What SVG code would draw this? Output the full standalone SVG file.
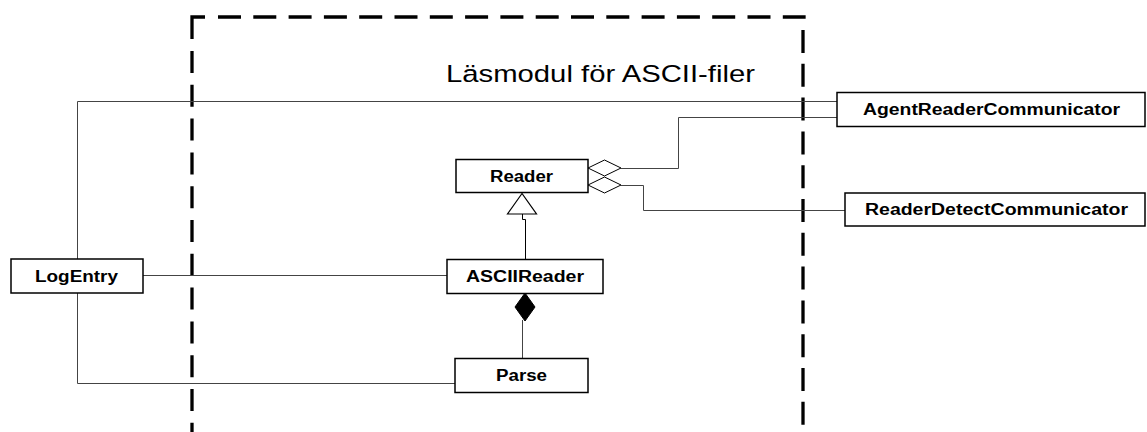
<svg xmlns="http://www.w3.org/2000/svg" width="1147" height="432" viewBox="0 0 1147 432">
<style>
.box{fill:#fff;stroke:#000;stroke-width:1.5}
.lbl{font-family:"Liberation Sans",Arial,sans-serif;font-weight:bold;font-size:16px;fill:#000}
.con{fill:none;stroke:#444;stroke-width:1}
.dash{fill:none;stroke:#000;stroke-width:3.3}
</style>
<rect width="1147" height="432" fill="#fff"/>
<g id="module">
<path class="dash" d="M192,39 V17 H205"/>
<path class="dash" d="M192,51 V432" stroke-dasharray="22 11.8"/>
<path class="dash" d="M218,17 H804 V19" stroke-dasharray="23 12.3"/>
<path class="dash" d="M803,30 V432" stroke-dasharray="23 10.8"/>
<text x="446" y="82" font-family="Liberation Sans,Arial,sans-serif" font-size="24.5" textLength="309" lengthAdjust="spacingAndGlyphs">Läsmodul för ASCII-filer</text>
</g>
<g id="connectors">
<path class="con" d="M77.5,259 V101.5 H837"/>
<path class="con" d="M143,275.5 H447"/>
<path class="con" d="M77.5,293 V383.5 H455"/>
<path class="con" d="M621,168.5 H678.5 V117.5 H837"/>
<path class="con" d="M621,185.5 H643.5 V210.5 H845"/>
<polygon points="588,168 604.5,160 621,168 604.5,176" fill="none" stroke="#000" stroke-width="1"/>
<polygon points="588,185 604.5,177 621,185 604.5,193" fill="none" stroke="#000" stroke-width="1"/>
<path d="M522.5,214 V219.5 H525.5 V259" fill="none" stroke="#000" stroke-width="1"/>
<polygon points="522,193.5 507.5,214 536.5,214" fill="#fff" stroke="#000" stroke-width="1.2"/>
<path class="con" d="M522.5,320 V358"/>
<polygon points="525,293 535,307 525,321 515,307" fill="#000" stroke="#000" stroke-width="1"/>
</g>
<g id="Reader">
<rect class="box" x="456" y="159.5" width="132" height="33"/>
<text class="lbl" x="490" y="182" textLength="63" lengthAdjust="spacingAndGlyphs">Reader</text>
</g>
<g id="ASCIIReader">
<rect class="box" x="447" y="259.5" width="156" height="34"/>
<text class="lbl" x="466" y="282" textLength="118" lengthAdjust="spacingAndGlyphs">ASCIIReader</text>
</g>
<g id="Parse">
<rect class="box" x="455" y="358.5" width="133" height="34"/>
<text class="lbl" x="496" y="380.5" textLength="51" lengthAdjust="spacingAndGlyphs">Parse</text>
</g>
<g id="LogEntry">
<rect class="box" x="11" y="259" width="132" height="34"/>
<text class="lbl" x="35" y="282" textLength="83" lengthAdjust="spacingAndGlyphs">LogEntry</text>
</g>
<g id="AgentReaderCommunicator">
<rect class="box" x="837" y="92.5" width="308" height="34"/>
<text class="lbl" x="863" y="114.5" textLength="257" lengthAdjust="spacingAndGlyphs">AgentReaderCommunicator</text>
</g>
<g id="ReaderDetectCommunicator">
<rect class="box" x="845" y="193" width="300" height="33"/>
<text class="lbl" x="865" y="215" textLength="263" lengthAdjust="spacingAndGlyphs">ReaderDetectCommunicator</text>
</g>
</svg>
